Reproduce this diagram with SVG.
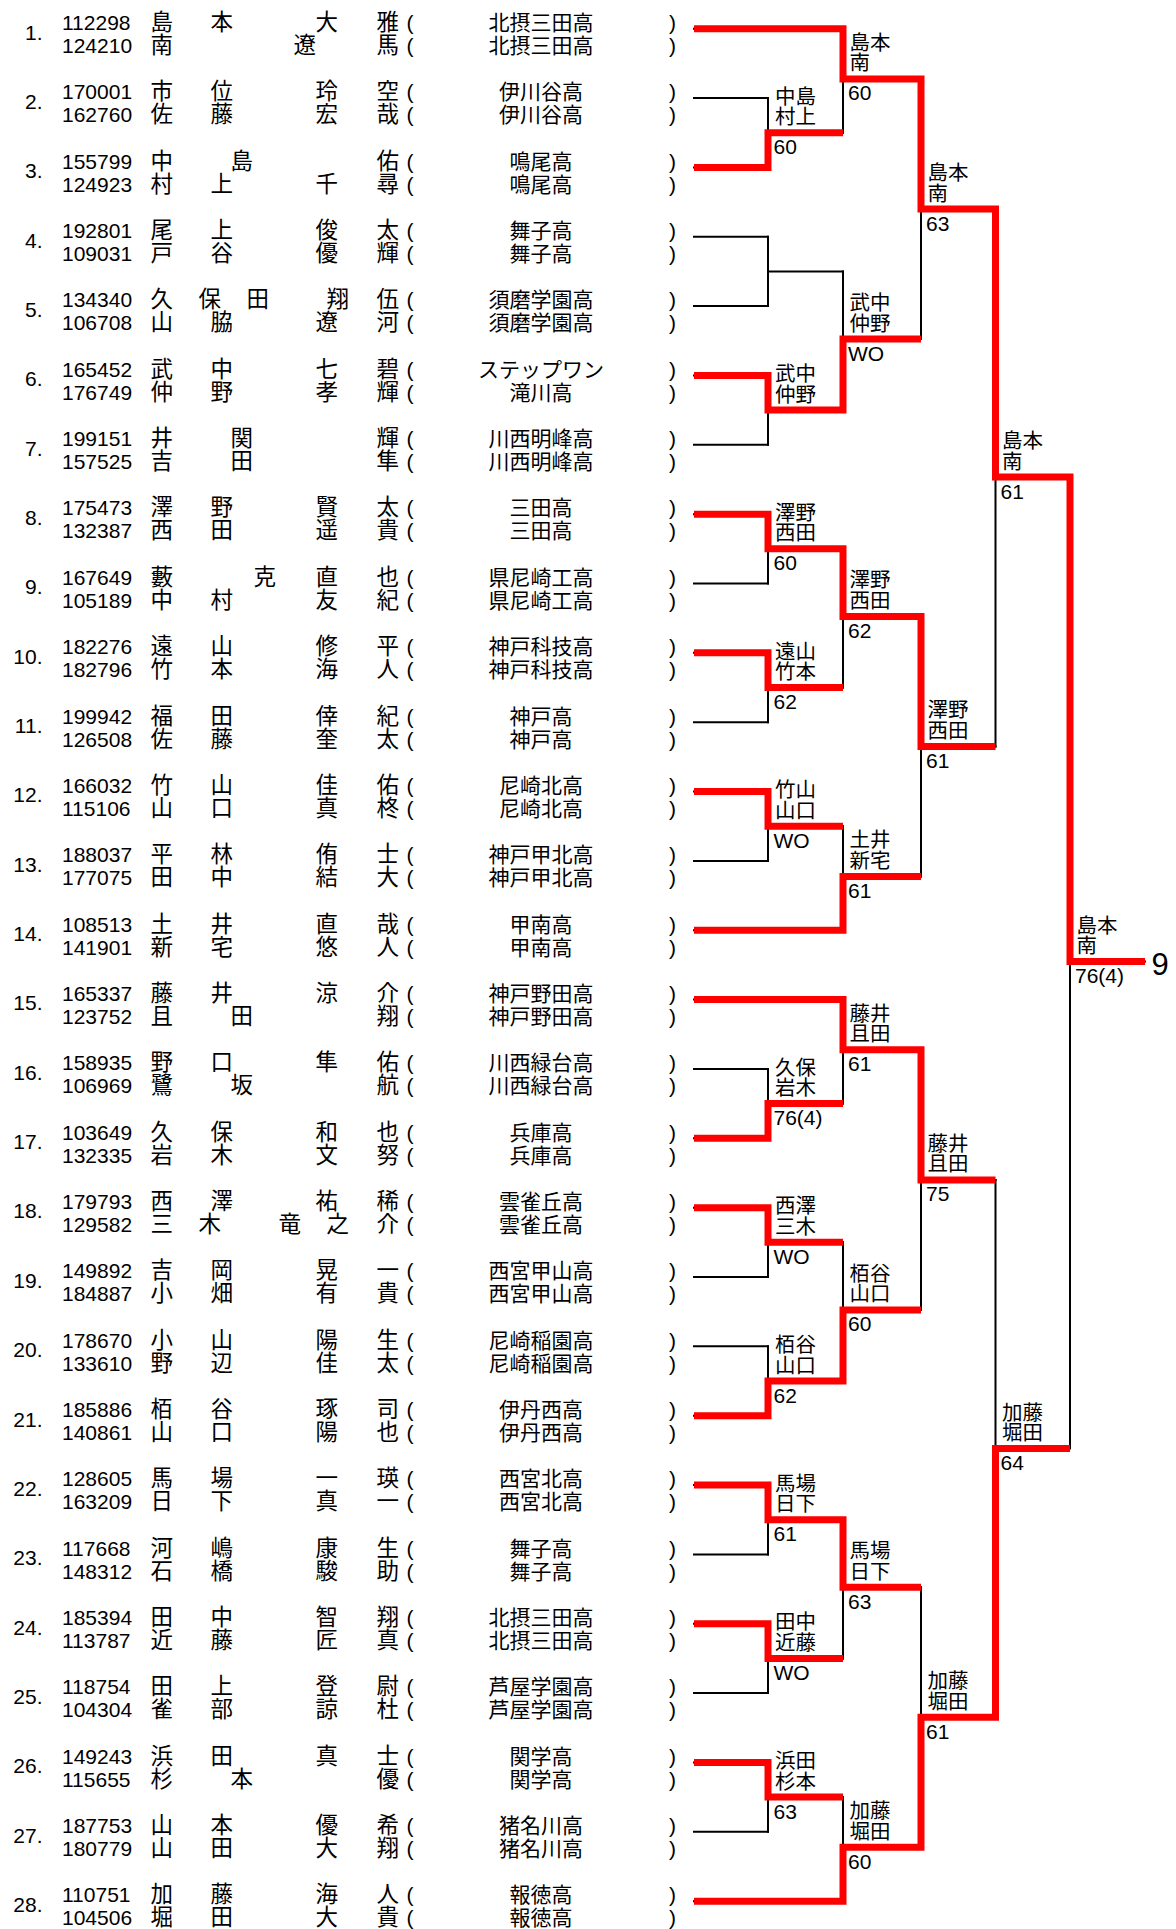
<svg xmlns="http://www.w3.org/2000/svg" width="1176" height="1929" viewBox="0 0 1176 1929">
<style>
text{fill:#000}
.n{font-family:"Liberation Sans","Noto Sans CJK JP",sans-serif;font-size:21px;text-anchor:end}
.id{font-family:"Liberation Sans",sans-serif;font-size:21px}
.k{font-family:"Noto Sans CJK JP",sans-serif;font-size:22.5px}
.p{font-family:"Liberation Sans",sans-serif;font-size:21px}
.s{font-family:"Noto Sans CJK JP",sans-serif;font-size:21px;text-anchor:middle}
.l{font-family:"Noto Sans CJK JP",sans-serif;font-size:20.5px}
.sc{font-family:"Liberation Sans",sans-serif;font-size:21px}
.fin{font-family:"Liberation Sans",sans-serif;font-size:31px}
.bk{fill:none;stroke:#000;stroke-width:2;stroke-linecap:square}
.rd{fill:none;stroke:#ff0000;stroke-width:7;stroke-linejoin:miter;stroke-linecap:butt}
</style>
<rect width="1176" height="1929" fill="#fff"/>

<g id="connectors">
<path class="bk" d="M694 28.7H843M694 98.05H768M694 167.4H768M694 236.75H768M694 306.1H768M694 375.45H768M694 444.8H768M694 514.15H768M694 583.5H768M694 652.85H768M694 722.2H768M694 791.55H768M694 860.9H768M694 930.25H843M694 999.6H843M694 1068.95H768M694 1138.3H768M694 1207.65H768M694 1277H768M694 1346.35H768M694 1415.7H768M694 1485.05H768M694 1554.4H768M694 1623.75H768M694 1693.1H768M694 1762.45H768M694 1831.8H768M694 1901.15H843"/>
<path class="bk" d="M768 98.05V167.4M768 236.75V306.1M768 375.45V444.8M768 514.15V583.5M768 652.85V722.2M768 791.55V860.9M768 1068.95V1138.3M768 1207.65V1277M768 1346.35V1415.7M768 1485.05V1554.4M768 1623.75V1693.1M768 1762.45V1831.8"/>
<path class="bk" d="M768 132.7H843M768 271.4H843M768 410.1H843M768 548.8H843M768 687.5H843M768 826.2H843M768 1103.6H843M768 1242.3H843M768 1381H843M768 1519.7H843M768 1658.4H843M768 1797.1H843"/>
<path class="bk" d="M843 28.7V132.7M843 271.4V410.1M843 548.8V687.5M843 826.2V930.25M843 999.6V1103.6M843 1242.3V1381M843 1519.7V1658.4M843 1797.1V1901.15"/>
<path class="bk" d="M843 78.9H921M843 339H921M843 616.4H921M843 876.4H921M843 1049.8H921M843 1309.9H921M843 1587.3H921M843 1847.3H921"/>
<path class="bk" d="M921 78.9V339M921 616.4V876.4M921 1049.8V1309.9M921 1587.3V1847.3M921 209H995.5M921 746.4H995.5M921 1179.9H995.5M921 1717.3H995.5"/>
<path class="bk" d="M995.5 209V746.4M995.5 1179.9V1717.3M995.5 477H1070M995.5 1448.6H1070M1070 477V1448.6M1070 961.5H1145"/>
<path class="rd" d="M694 28.7H843V78.9H921V209H995.5V477H1070V961.5H1145"/>
<path class="rd" d="M694 167.4H768V132.7H843"/>
<path class="rd" d="M694 375.45H768V410.1H843V339H921"/>
<path class="rd" d="M694 514.15H768V548.8H843V616.4H921V746.4H995.5"/>
<path class="rd" d="M694 652.85H768V687.5H843"/>
<path class="rd" d="M694 791.55H768V826.2H843"/>
<path class="rd" d="M694 930.25H843V876.4H921"/>
<path class="rd" d="M694 999.6H843V1049.8H921V1179.9H995.5"/>
<path class="rd" d="M694 1138.3H768V1103.6H843"/>
<path class="rd" d="M694 1207.65H768V1242.3H843"/>
<path class="rd" d="M694 1415.7H768V1381H843V1309.9H921"/>
<path class="rd" d="M694 1485.05H768V1519.7H843V1587.3H921"/>
<path class="rd" d="M694 1623.75H768V1658.4H843"/>
<path class="rd" d="M694 1762.45H768V1797.1H843"/>
<path class="rd" d="M694 1901.15H843V1847.3H921V1717.3H995.5V1448.6H1070"/>
</g>

<g id="entry1">
<text class="n" x="42.5" y="39.5">1.</text>
<text class="id"><tspan x="62" y="30">112298</tspan><tspan x="62" y="53">124210</tspan></text>
<text class="k"><tspan x="150.5" y="30">島</tspan><tspan x="210.5">本</tspan><tspan x="315.5">大</tspan><tspan x="376.5">雅</tspan><tspan x="150.5" y="53">南</tspan><tspan x="293.5">遼</tspan><tspan x="376.5">馬</tspan></text>
<text class="p"><tspan x="406.5" y="30">(</tspan><tspan x="406.5" y="53">(</tspan></text>
<text class="s"><tspan x="541" y="30">北摂三田高</tspan><tspan x="541" y="53">北摂三田高</tspan></text>
<text class="p"><tspan x="669" y="30">)</tspan><tspan x="669" y="53">)</tspan></text>
</g>
<g id="entry2" transform="translate(0,69.35)">
<text class="n" x="42.5" y="39.5">2.</text>
<text class="id"><tspan x="62" y="30">170001</tspan><tspan x="62" y="53">162760</tspan></text>
<text class="k"><tspan x="150.5" y="30">市</tspan><tspan x="210.5">位</tspan><tspan x="315.5">玲</tspan><tspan x="376.5">空</tspan><tspan x="150.5" y="53">佐</tspan><tspan x="210.5">藤</tspan><tspan x="315.5">宏</tspan><tspan x="376.5">哉</tspan></text>
<text class="p"><tspan x="406.5" y="30">(</tspan><tspan x="406.5" y="53">(</tspan></text>
<text class="s"><tspan x="541" y="30">伊川谷高</tspan><tspan x="541" y="53">伊川谷高</tspan></text>
<text class="p"><tspan x="669" y="30">)</tspan><tspan x="669" y="53">)</tspan></text>
</g>
<g id="entry3" transform="translate(0,138.7)">
<text class="n" x="42.5" y="39.5">3.</text>
<text class="id"><tspan x="62" y="30">155799</tspan><tspan x="62" y="53">124923</tspan></text>
<text class="k"><tspan x="150.5" y="30">中</tspan><tspan x="230.5">島</tspan><tspan x="376.5">佑</tspan><tspan x="150.5" y="53">村</tspan><tspan x="210.5">上</tspan><tspan x="315.5">千</tspan><tspan x="376.5">尋</tspan></text>
<text class="p"><tspan x="406.5" y="30">(</tspan><tspan x="406.5" y="53">(</tspan></text>
<text class="s"><tspan x="541" y="30">鳴尾高</tspan><tspan x="541" y="53">鳴尾高</tspan></text>
<text class="p"><tspan x="669" y="30">)</tspan><tspan x="669" y="53">)</tspan></text>
</g>
<g id="entry4" transform="translate(0,208.05)">
<text class="n" x="42.5" y="39.5">4.</text>
<text class="id"><tspan x="62" y="30">192801</tspan><tspan x="62" y="53">109031</tspan></text>
<text class="k"><tspan x="150.5" y="30">尾</tspan><tspan x="210.5">上</tspan><tspan x="315.5">俊</tspan><tspan x="376.5">太</tspan><tspan x="150.5" y="53">戸</tspan><tspan x="210.5">谷</tspan><tspan x="315.5">優</tspan><tspan x="376.5">輝</tspan></text>
<text class="p"><tspan x="406.5" y="30">(</tspan><tspan x="406.5" y="53">(</tspan></text>
<text class="s"><tspan x="541" y="30">舞子高</tspan><tspan x="541" y="53">舞子高</tspan></text>
<text class="p"><tspan x="669" y="30">)</tspan><tspan x="669" y="53">)</tspan></text>
</g>
<g id="entry5" transform="translate(0,277.4)">
<text class="n" x="42.5" y="39.5">5.</text>
<text class="id"><tspan x="62" y="30">134340</tspan><tspan x="62" y="53">106708</tspan></text>
<text class="k"><tspan x="150.5" y="30">久</tspan><tspan x="198.5">保</tspan><tspan x="246.5">田</tspan><tspan x="326.5">翔</tspan><tspan x="376.5">伍</tspan><tspan x="150.5" y="53">山</tspan><tspan x="210.5">脇</tspan><tspan x="315.5">遼</tspan><tspan x="376.5">河</tspan></text>
<text class="p"><tspan x="406.5" y="30">(</tspan><tspan x="406.5" y="53">(</tspan></text>
<text class="s"><tspan x="541" y="30">須磨学園高</tspan><tspan x="541" y="53">須磨学園高</tspan></text>
<text class="p"><tspan x="669" y="30">)</tspan><tspan x="669" y="53">)</tspan></text>
</g>
<g id="entry6" transform="translate(0,346.75)">
<text class="n" x="42.5" y="39.5">6.</text>
<text class="id"><tspan x="62" y="30">165452</tspan><tspan x="62" y="53">176749</tspan></text>
<text class="k"><tspan x="150.5" y="30">武</tspan><tspan x="210.5">中</tspan><tspan x="315.5">七</tspan><tspan x="376.5">碧</tspan><tspan x="150.5" y="53">仲</tspan><tspan x="210.5">野</tspan><tspan x="315.5">孝</tspan><tspan x="376.5">輝</tspan></text>
<text class="p"><tspan x="406.5" y="30">(</tspan><tspan x="406.5" y="53">(</tspan></text>
<text class="s"><tspan x="541" y="30">ステップワン</tspan><tspan x="541" y="53">滝川高</tspan></text>
<text class="p"><tspan x="669" y="30">)</tspan><tspan x="669" y="53">)</tspan></text>
</g>
<g id="entry7" transform="translate(0,416.1)">
<text class="n" x="42.5" y="39.5">7.</text>
<text class="id"><tspan x="62" y="30">199151</tspan><tspan x="62" y="53">157525</tspan></text>
<text class="k"><tspan x="150.5" y="30">井</tspan><tspan x="230.5">関</tspan><tspan x="376.5">輝</tspan><tspan x="150.5" y="53">吉</tspan><tspan x="230.5">田</tspan><tspan x="376.5">隼</tspan></text>
<text class="p"><tspan x="406.5" y="30">(</tspan><tspan x="406.5" y="53">(</tspan></text>
<text class="s"><tspan x="541" y="30">川西明峰高</tspan><tspan x="541" y="53">川西明峰高</tspan></text>
<text class="p"><tspan x="669" y="30">)</tspan><tspan x="669" y="53">)</tspan></text>
</g>
<g id="entry8" transform="translate(0,485.45)">
<text class="n" x="42.5" y="39.5">8.</text>
<text class="id"><tspan x="62" y="30">175473</tspan><tspan x="62" y="53">132387</tspan></text>
<text class="k"><tspan x="150.5" y="30">澤</tspan><tspan x="210.5">野</tspan><tspan x="315.5">賢</tspan><tspan x="376.5">太</tspan><tspan x="150.5" y="53">西</tspan><tspan x="210.5">田</tspan><tspan x="315.5">遥</tspan><tspan x="376.5">貴</tspan></text>
<text class="p"><tspan x="406.5" y="30">(</tspan><tspan x="406.5" y="53">(</tspan></text>
<text class="s"><tspan x="541" y="30">三田高</tspan><tspan x="541" y="53">三田高</tspan></text>
<text class="p"><tspan x="669" y="30">)</tspan><tspan x="669" y="53">)</tspan></text>
</g>
<g id="entry9" transform="translate(0,554.8)">
<text class="n" x="42.5" y="39.5">9.</text>
<text class="id"><tspan x="62" y="30">167649</tspan><tspan x="62" y="53">105189</tspan></text>
<text class="k"><tspan x="150.5" y="30">藪</tspan><tspan x="253.5">克</tspan><tspan x="315.5">直</tspan><tspan x="376.5">也</tspan><tspan x="150.5" y="53">中</tspan><tspan x="210.5">村</tspan><tspan x="315.5">友</tspan><tspan x="376.5">紀</tspan></text>
<text class="p"><tspan x="406.5" y="30">(</tspan><tspan x="406.5" y="53">(</tspan></text>
<text class="s"><tspan x="541" y="30">県尼崎工高</tspan><tspan x="541" y="53">県尼崎工高</tspan></text>
<text class="p"><tspan x="669" y="30">)</tspan><tspan x="669" y="53">)</tspan></text>
</g>
<g id="entry10" transform="translate(0,624.15)">
<text class="n" x="42.5" y="39.5">10.</text>
<text class="id"><tspan x="62" y="30">182276</tspan><tspan x="62" y="53">182796</tspan></text>
<text class="k"><tspan x="150.5" y="30">遠</tspan><tspan x="210.5">山</tspan><tspan x="315.5">修</tspan><tspan x="376.5">平</tspan><tspan x="150.5" y="53">竹</tspan><tspan x="210.5">本</tspan><tspan x="315.5">海</tspan><tspan x="376.5">人</tspan></text>
<text class="p"><tspan x="406.5" y="30">(</tspan><tspan x="406.5" y="53">(</tspan></text>
<text class="s"><tspan x="541" y="30">神戸科技高</tspan><tspan x="541" y="53">神戸科技高</tspan></text>
<text class="p"><tspan x="669" y="30">)</tspan><tspan x="669" y="53">)</tspan></text>
</g>
<g id="entry11" transform="translate(0,693.5)">
<text class="n" x="42.5" y="39.5">11.</text>
<text class="id"><tspan x="62" y="30">199942</tspan><tspan x="62" y="53">126508</tspan></text>
<text class="k"><tspan x="150.5" y="30">福</tspan><tspan x="210.5">田</tspan><tspan x="315.5">倖</tspan><tspan x="376.5">紀</tspan><tspan x="150.5" y="53">佐</tspan><tspan x="210.5">藤</tspan><tspan x="315.5">奎</tspan><tspan x="376.5">太</tspan></text>
<text class="p"><tspan x="406.5" y="30">(</tspan><tspan x="406.5" y="53">(</tspan></text>
<text class="s"><tspan x="541" y="30">神戸高</tspan><tspan x="541" y="53">神戸高</tspan></text>
<text class="p"><tspan x="669" y="30">)</tspan><tspan x="669" y="53">)</tspan></text>
</g>
<g id="entry12" transform="translate(0,762.85)">
<text class="n" x="42.5" y="39.5">12.</text>
<text class="id"><tspan x="62" y="30">166032</tspan><tspan x="62" y="53">115106</tspan></text>
<text class="k"><tspan x="150.5" y="30">竹</tspan><tspan x="210.5">山</tspan><tspan x="315.5">佳</tspan><tspan x="376.5">佑</tspan><tspan x="150.5" y="53">山</tspan><tspan x="210.5">口</tspan><tspan x="315.5">真</tspan><tspan x="376.5">柊</tspan></text>
<text class="p"><tspan x="406.5" y="30">(</tspan><tspan x="406.5" y="53">(</tspan></text>
<text class="s"><tspan x="541" y="30">尼崎北高</tspan><tspan x="541" y="53">尼崎北高</tspan></text>
<text class="p"><tspan x="669" y="30">)</tspan><tspan x="669" y="53">)</tspan></text>
</g>
<g id="entry13" transform="translate(0,832.2)">
<text class="n" x="42.5" y="39.5">13.</text>
<text class="id"><tspan x="62" y="30">188037</tspan><tspan x="62" y="53">177075</tspan></text>
<text class="k"><tspan x="150.5" y="30">平</tspan><tspan x="210.5">林</tspan><tspan x="315.5">侑</tspan><tspan x="376.5">士</tspan><tspan x="150.5" y="53">田</tspan><tspan x="210.5">中</tspan><tspan x="315.5">結</tspan><tspan x="376.5">大</tspan></text>
<text class="p"><tspan x="406.5" y="30">(</tspan><tspan x="406.5" y="53">(</tspan></text>
<text class="s"><tspan x="541" y="30">神戸甲北高</tspan><tspan x="541" y="53">神戸甲北高</tspan></text>
<text class="p"><tspan x="669" y="30">)</tspan><tspan x="669" y="53">)</tspan></text>
</g>
<g id="entry14" transform="translate(0,901.55)">
<text class="n" x="42.5" y="39.5">14.</text>
<text class="id"><tspan x="62" y="30">108513</tspan><tspan x="62" y="53">141901</tspan></text>
<text class="k"><tspan x="150.5" y="30">土</tspan><tspan x="210.5">井</tspan><tspan x="315.5">直</tspan><tspan x="376.5">哉</tspan><tspan x="150.5" y="53">新</tspan><tspan x="210.5">宅</tspan><tspan x="315.5">悠</tspan><tspan x="376.5">人</tspan></text>
<text class="p"><tspan x="406.5" y="30">(</tspan><tspan x="406.5" y="53">(</tspan></text>
<text class="s"><tspan x="541" y="30">甲南高</tspan><tspan x="541" y="53">甲南高</tspan></text>
<text class="p"><tspan x="669" y="30">)</tspan><tspan x="669" y="53">)</tspan></text>
</g>
<g id="entry15" transform="translate(0,970.9)">
<text class="n" x="42.5" y="39.5">15.</text>
<text class="id"><tspan x="62" y="30">165337</tspan><tspan x="62" y="53">123752</tspan></text>
<text class="k"><tspan x="150.5" y="30">藤</tspan><tspan x="210.5">井</tspan><tspan x="315.5">涼</tspan><tspan x="376.5">介</tspan><tspan x="150.5" y="53">且</tspan><tspan x="230.5">田</tspan><tspan x="376.5">翔</tspan></text>
<text class="p"><tspan x="406.5" y="30">(</tspan><tspan x="406.5" y="53">(</tspan></text>
<text class="s"><tspan x="541" y="30">神戸野田高</tspan><tspan x="541" y="53">神戸野田高</tspan></text>
<text class="p"><tspan x="669" y="30">)</tspan><tspan x="669" y="53">)</tspan></text>
</g>
<g id="entry16" transform="translate(0,1040.25)">
<text class="n" x="42.5" y="39.5">16.</text>
<text class="id"><tspan x="62" y="30">158935</tspan><tspan x="62" y="53">106969</tspan></text>
<text class="k"><tspan x="150.5" y="30">野</tspan><tspan x="210.5">口</tspan><tspan x="315.5">隼</tspan><tspan x="376.5">佑</tspan><tspan x="150.5" y="53">鷺</tspan><tspan x="230.5">坂</tspan><tspan x="376.5">航</tspan></text>
<text class="p"><tspan x="406.5" y="30">(</tspan><tspan x="406.5" y="53">(</tspan></text>
<text class="s"><tspan x="541" y="30">川西緑台高</tspan><tspan x="541" y="53">川西緑台高</tspan></text>
<text class="p"><tspan x="669" y="30">)</tspan><tspan x="669" y="53">)</tspan></text>
</g>
<g id="entry17" transform="translate(0,1109.6)">
<text class="n" x="42.5" y="39.5">17.</text>
<text class="id"><tspan x="62" y="30">103649</tspan><tspan x="62" y="53">132335</tspan></text>
<text class="k"><tspan x="150.5" y="30">久</tspan><tspan x="210.5">保</tspan><tspan x="315.5">和</tspan><tspan x="376.5">也</tspan><tspan x="150.5" y="53">岩</tspan><tspan x="210.5">木</tspan><tspan x="315.5">文</tspan><tspan x="376.5">努</tspan></text>
<text class="p"><tspan x="406.5" y="30">(</tspan><tspan x="406.5" y="53">(</tspan></text>
<text class="s"><tspan x="541" y="30">兵庫高</tspan><tspan x="541" y="53">兵庫高</tspan></text>
<text class="p"><tspan x="669" y="30">)</tspan><tspan x="669" y="53">)</tspan></text>
</g>
<g id="entry18" transform="translate(0,1178.95)">
<text class="n" x="42.5" y="39.5">18.</text>
<text class="id"><tspan x="62" y="30">179793</tspan><tspan x="62" y="53">129582</tspan></text>
<text class="k"><tspan x="150.5" y="30">西</tspan><tspan x="210.5">澤</tspan><tspan x="315.5">祐</tspan><tspan x="376.5">稀</tspan><tspan x="150.5" y="53">三</tspan><tspan x="198.5">木</tspan><tspan x="278.5">竜</tspan><tspan x="326.5">之</tspan><tspan x="376.5">介</tspan></text>
<text class="p"><tspan x="406.5" y="30">(</tspan><tspan x="406.5" y="53">(</tspan></text>
<text class="s"><tspan x="541" y="30">雲雀丘高</tspan><tspan x="541" y="53">雲雀丘高</tspan></text>
<text class="p"><tspan x="669" y="30">)</tspan><tspan x="669" y="53">)</tspan></text>
</g>
<g id="entry19" transform="translate(0,1248.3)">
<text class="n" x="42.5" y="39.5">19.</text>
<text class="id"><tspan x="62" y="30">149892</tspan><tspan x="62" y="53">184887</tspan></text>
<text class="k"><tspan x="150.5" y="30">吉</tspan><tspan x="210.5">岡</tspan><tspan x="315.5">晃</tspan><tspan x="376.5">一</tspan><tspan x="150.5" y="53">小</tspan><tspan x="210.5">畑</tspan><tspan x="315.5">有</tspan><tspan x="376.5">貴</tspan></text>
<text class="p"><tspan x="406.5" y="30">(</tspan><tspan x="406.5" y="53">(</tspan></text>
<text class="s"><tspan x="541" y="30">西宮甲山高</tspan><tspan x="541" y="53">西宮甲山高</tspan></text>
<text class="p"><tspan x="669" y="30">)</tspan><tspan x="669" y="53">)</tspan></text>
</g>
<g id="entry20" transform="translate(0,1317.65)">
<text class="n" x="42.5" y="39.5">20.</text>
<text class="id"><tspan x="62" y="30">178670</tspan><tspan x="62" y="53">133610</tspan></text>
<text class="k"><tspan x="150.5" y="30">小</tspan><tspan x="210.5">山</tspan><tspan x="315.5">陽</tspan><tspan x="376.5">生</tspan><tspan x="150.5" y="53">野</tspan><tspan x="210.5">辺</tspan><tspan x="315.5">佳</tspan><tspan x="376.5">太</tspan></text>
<text class="p"><tspan x="406.5" y="30">(</tspan><tspan x="406.5" y="53">(</tspan></text>
<text class="s"><tspan x="541" y="30">尼崎稲園高</tspan><tspan x="541" y="53">尼崎稲園高</tspan></text>
<text class="p"><tspan x="669" y="30">)</tspan><tspan x="669" y="53">)</tspan></text>
</g>
<g id="entry21" transform="translate(0,1387)">
<text class="n" x="42.5" y="39.5">21.</text>
<text class="id"><tspan x="62" y="30">185886</tspan><tspan x="62" y="53">140861</tspan></text>
<text class="k"><tspan x="150.5" y="30">栢</tspan><tspan x="210.5">谷</tspan><tspan x="315.5">琢</tspan><tspan x="376.5">司</tspan><tspan x="150.5" y="53">山</tspan><tspan x="210.5">口</tspan><tspan x="315.5">陽</tspan><tspan x="376.5">也</tspan></text>
<text class="p"><tspan x="406.5" y="30">(</tspan><tspan x="406.5" y="53">(</tspan></text>
<text class="s"><tspan x="541" y="30">伊丹西高</tspan><tspan x="541" y="53">伊丹西高</tspan></text>
<text class="p"><tspan x="669" y="30">)</tspan><tspan x="669" y="53">)</tspan></text>
</g>
<g id="entry22" transform="translate(0,1456.35)">
<text class="n" x="42.5" y="39.5">22.</text>
<text class="id"><tspan x="62" y="30">128605</tspan><tspan x="62" y="53">163209</tspan></text>
<text class="k"><tspan x="150.5" y="30">馬</tspan><tspan x="210.5">場</tspan><tspan x="315.5">一</tspan><tspan x="376.5">瑛</tspan><tspan x="150.5" y="53">日</tspan><tspan x="210.5">下</tspan><tspan x="315.5">真</tspan><tspan x="376.5">一</tspan></text>
<text class="p"><tspan x="406.5" y="30">(</tspan><tspan x="406.5" y="53">(</tspan></text>
<text class="s"><tspan x="541" y="30">西宮北高</tspan><tspan x="541" y="53">西宮北高</tspan></text>
<text class="p"><tspan x="669" y="30">)</tspan><tspan x="669" y="53">)</tspan></text>
</g>
<g id="entry23" transform="translate(0,1525.7)">
<text class="n" x="42.5" y="39.5">23.</text>
<text class="id"><tspan x="62" y="30">117668</tspan><tspan x="62" y="53">148312</tspan></text>
<text class="k"><tspan x="150.5" y="30">河</tspan><tspan x="210.5">嶋</tspan><tspan x="315.5">康</tspan><tspan x="376.5">生</tspan><tspan x="150.5" y="53">石</tspan><tspan x="210.5">橋</tspan><tspan x="315.5">駿</tspan><tspan x="376.5">助</tspan></text>
<text class="p"><tspan x="406.5" y="30">(</tspan><tspan x="406.5" y="53">(</tspan></text>
<text class="s"><tspan x="541" y="30">舞子高</tspan><tspan x="541" y="53">舞子高</tspan></text>
<text class="p"><tspan x="669" y="30">)</tspan><tspan x="669" y="53">)</tspan></text>
</g>
<g id="entry24" transform="translate(0,1595.05)">
<text class="n" x="42.5" y="39.5">24.</text>
<text class="id"><tspan x="62" y="30">185394</tspan><tspan x="62" y="53">113787</tspan></text>
<text class="k"><tspan x="150.5" y="30">田</tspan><tspan x="210.5">中</tspan><tspan x="315.5">智</tspan><tspan x="376.5">翔</tspan><tspan x="150.5" y="53">近</tspan><tspan x="210.5">藤</tspan><tspan x="315.5">匠</tspan><tspan x="376.5">真</tspan></text>
<text class="p"><tspan x="406.5" y="30">(</tspan><tspan x="406.5" y="53">(</tspan></text>
<text class="s"><tspan x="541" y="30">北摂三田高</tspan><tspan x="541" y="53">北摂三田高</tspan></text>
<text class="p"><tspan x="669" y="30">)</tspan><tspan x="669" y="53">)</tspan></text>
</g>
<g id="entry25" transform="translate(0,1664.4)">
<text class="n" x="42.5" y="39.5">25.</text>
<text class="id"><tspan x="62" y="30">118754</tspan><tspan x="62" y="53">104304</tspan></text>
<text class="k"><tspan x="150.5" y="30">田</tspan><tspan x="210.5">上</tspan><tspan x="315.5">登</tspan><tspan x="376.5">尉</tspan><tspan x="150.5" y="53">雀</tspan><tspan x="210.5">部</tspan><tspan x="315.5">諒</tspan><tspan x="376.5">杜</tspan></text>
<text class="p"><tspan x="406.5" y="30">(</tspan><tspan x="406.5" y="53">(</tspan></text>
<text class="s"><tspan x="541" y="30">芦屋学園高</tspan><tspan x="541" y="53">芦屋学園高</tspan></text>
<text class="p"><tspan x="669" y="30">)</tspan><tspan x="669" y="53">)</tspan></text>
</g>
<g id="entry26" transform="translate(0,1733.75)">
<text class="n" x="42.5" y="39.5">26.</text>
<text class="id"><tspan x="62" y="30">149243</tspan><tspan x="62" y="53">115655</tspan></text>
<text class="k"><tspan x="150.5" y="30">浜</tspan><tspan x="210.5">田</tspan><tspan x="315.5">真</tspan><tspan x="376.5">士</tspan><tspan x="150.5" y="53">杉</tspan><tspan x="230.5">本</tspan><tspan x="376.5">優</tspan></text>
<text class="p"><tspan x="406.5" y="30">(</tspan><tspan x="406.5" y="53">(</tspan></text>
<text class="s"><tspan x="541" y="30">関学高</tspan><tspan x="541" y="53">関学高</tspan></text>
<text class="p"><tspan x="669" y="30">)</tspan><tspan x="669" y="53">)</tspan></text>
</g>
<g id="entry27" transform="translate(0,1803.1)">
<text class="n" x="42.5" y="39.5">27.</text>
<text class="id"><tspan x="62" y="30">187753</tspan><tspan x="62" y="53">180779</tspan></text>
<text class="k"><tspan x="150.5" y="30">山</tspan><tspan x="210.5">本</tspan><tspan x="315.5">優</tspan><tspan x="376.5">希</tspan><tspan x="150.5" y="53">山</tspan><tspan x="210.5">田</tspan><tspan x="315.5">大</tspan><tspan x="376.5">翔</tspan></text>
<text class="p"><tspan x="406.5" y="30">(</tspan><tspan x="406.5" y="53">(</tspan></text>
<text class="s"><tspan x="541" y="30">猪名川高</tspan><tspan x="541" y="53">猪名川高</tspan></text>
<text class="p"><tspan x="669" y="30">)</tspan><tspan x="669" y="53">)</tspan></text>
</g>
<g id="entry28" transform="translate(0,1872.45)">
<text class="n" x="42.5" y="39.5">28.</text>
<text class="id"><tspan x="62" y="30">110751</tspan><tspan x="62" y="53">104506</tspan></text>
<text class="k"><tspan x="150.5" y="30">加</tspan><tspan x="210.5">藤</tspan><tspan x="315.5">海</tspan><tspan x="376.5">人</tspan><tspan x="150.5" y="53">堀</tspan><tspan x="210.5">田</tspan><tspan x="315.5">大</tspan><tspan x="376.5">貴</tspan></text>
<text class="p"><tspan x="406.5" y="30">(</tspan><tspan x="406.5" y="53">(</tspan></text>
<text class="s"><tspan x="541" y="30">報徳高</tspan><tspan x="541" y="53">報徳高</tspan></text>
<text class="p"><tspan x="669" y="30">)</tspan><tspan x="669" y="53">)</tspan></text>
</g>

<g id="r1-2-3" transform="translate(775,132.7)"><text class="l"><tspan x="0" y="-29">中島</tspan><tspan x="0" y="-8.5">村上</tspan></text><text class="sc" x="-1.5" y="21.5">60</text></g>
<g id="r1-6-7" transform="translate(775,410.1)"><text class="l"><tspan x="0" y="-29">武中</tspan><tspan x="0" y="-8.5">仲野</tspan></text></g>
<g id="r1-8-9" transform="translate(775,548.8)"><text class="l"><tspan x="0" y="-29">澤野</tspan><tspan x="0" y="-8.5">西田</tspan></text><text class="sc" x="-1.5" y="21.5">60</text></g>
<g id="r1-10-11" transform="translate(775,687.5)"><text class="l"><tspan x="0" y="-29">遠山</tspan><tspan x="0" y="-8.5">竹本</tspan></text><text class="sc" x="-1.5" y="21.5">62</text></g>
<g id="r1-12-13" transform="translate(775,826.2)"><text class="l"><tspan x="0" y="-29">竹山</tspan><tspan x="0" y="-8.5">山口</tspan></text><text class="sc" x="-1.5" y="21.5">WO</text></g>
<g id="r1-16-17" transform="translate(775,1103.6)"><text class="l"><tspan x="0" y="-29">久保</tspan><tspan x="0" y="-8.5">岩木</tspan></text><text class="sc" x="-1.5" y="21.5">76(4)</text></g>
<g id="r1-18-19" transform="translate(775,1242.3)"><text class="l"><tspan x="0" y="-29">西澤</tspan><tspan x="0" y="-8.5">三木</tspan></text><text class="sc" x="-1.5" y="21.5">WO</text></g>
<g id="r1-20-21" transform="translate(775,1381)"><text class="l"><tspan x="0" y="-29">栢谷</tspan><tspan x="0" y="-8.5">山口</tspan></text><text class="sc" x="-1.5" y="21.5">62</text></g>
<g id="r1-22-23" transform="translate(775,1519.7)"><text class="l"><tspan x="0" y="-29">馬場</tspan><tspan x="0" y="-8.5">日下</tspan></text><text class="sc" x="-1.5" y="21.5">61</text></g>
<g id="r1-24-25" transform="translate(775,1658.4)"><text class="l"><tspan x="0" y="-29">田中</tspan><tspan x="0" y="-8.5">近藤</tspan></text><text class="sc" x="-1.5" y="21.5">WO</text></g>
<g id="r1-26-27" transform="translate(775,1797.1)"><text class="l"><tspan x="0" y="-29">浜田</tspan><tspan x="0" y="-8.5">杉本</tspan></text><text class="sc" x="-1.5" y="21.5">63</text></g>

<g id="r2-a" transform="translate(849.5,78.9)"><text class="l"><tspan x="0" y="-29">島本</tspan><tspan x="0" y="-8.5">南</tspan></text><text class="sc" x="-1.5" y="21.5">60</text></g>
<g id="r2-b" transform="translate(849.5,339)"><text class="l"><tspan x="0" y="-29">武中</tspan><tspan x="0" y="-8.5">仲野</tspan></text><text class="sc" x="-1.5" y="21.5">WO</text></g>
<g id="r2-c" transform="translate(849.5,616.4)"><text class="l"><tspan x="0" y="-29">澤野</tspan><tspan x="0" y="-8.5">西田</tspan></text><text class="sc" x="-1.5" y="21.5">62</text></g>
<g id="r2-d" transform="translate(849.5,876.4)"><text class="l"><tspan x="0" y="-29">土井</tspan><tspan x="0" y="-8.5">新宅</tspan></text><text class="sc" x="-1.5" y="21.5">61</text></g>
<g id="r2-e" transform="translate(849.5,1049.8)"><text class="l"><tspan x="0" y="-29">藤井</tspan><tspan x="0" y="-8.5">且田</tspan></text><text class="sc" x="-1.5" y="21.5">61</text></g>
<g id="r2-f" transform="translate(849.5,1309.9)"><text class="l"><tspan x="0" y="-29">栢谷</tspan><tspan x="0" y="-8.5">山口</tspan></text><text class="sc" x="-1.5" y="21.5">60</text></g>
<g id="r2-g" transform="translate(849.5,1587.3)"><text class="l"><tspan x="0" y="-29">馬場</tspan><tspan x="0" y="-8.5">日下</tspan></text><text class="sc" x="-1.5" y="21.5">63</text></g>
<g id="r2-h" transform="translate(849.5,1847.3)"><text class="l"><tspan x="0" y="-29">加藤</tspan><tspan x="0" y="-8.5">堀田</tspan></text><text class="sc" x="-1.5" y="21.5">60</text></g>

<g id="r3-ab" transform="translate(927.5,209)"><text class="l"><tspan x="0" y="-29">島本</tspan><tspan x="0" y="-8.5">南</tspan></text><text class="sc" x="-1.5" y="21.5">63</text></g>
<g id="r3-cd" transform="translate(927.5,746.4)"><text class="l"><tspan x="0" y="-29">澤野</tspan><tspan x="0" y="-8.5">西田</tspan></text><text class="sc" x="-1.5" y="21.5">61</text></g>
<g id="r3-ef" transform="translate(927.5,1179.9)"><text class="l"><tspan x="0" y="-29">藤井</tspan><tspan x="0" y="-8.5">且田</tspan></text><text class="sc" x="-1.5" y="21.5">75</text></g>
<g id="r3-gh" transform="translate(927.5,1717.3)"><text class="l"><tspan x="0" y="-29">加藤</tspan><tspan x="0" y="-8.5">堀田</tspan></text><text class="sc" x="-1.5" y="21.5">61</text></g>

<g id="r4-upper" transform="translate(1002,477)"><text class="l"><tspan x="0" y="-29">島本</tspan><tspan x="0" y="-8.5">南</tspan></text><text class="sc" x="-1.5" y="21.5">61</text></g>
<g id="r4-lower" transform="translate(1002,1448.6)"><text class="l"><tspan x="0" y="-29">加藤</tspan><tspan x="0" y="-8.5">堀田</tspan></text><text class="sc" x="-1.5" y="21.5">64</text></g>

<g id="r5-final" transform="translate(1076.5,961.5)"><text class="l"><tspan x="0" y="-29">島本</tspan><tspan x="0" y="-8.5">南</tspan></text><text class="sc" x="-1.5" y="21.5">76(4)</text></g>
<g id="result"><text class="fin" x="1151.5" y="975">9</text></g>
</svg>
